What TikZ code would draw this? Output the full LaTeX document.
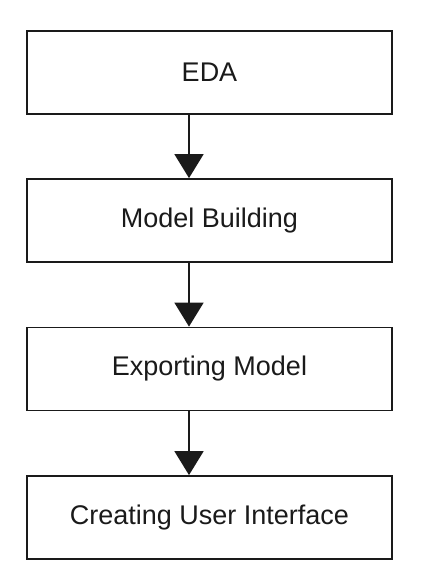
\documentclass[tikz,border=0pt]{standalone}
\usepackage{fontspec}
\setmainfont{Liberation Sans}
\usetikzlibrary{arrows.meta}
\definecolor{ink}{HTML}{1A1A1A}
\begin{document}
\begin{tikzpicture}[x=1pt,y=-1pt,
  stagebox/.style={draw=ink, line width=1.8pt, rectangle, minimum width=365pt, minimum height=83pt, inner sep=0pt, text=ink, font=\fontsize{27}{32}\selectfont},
  flowarrow/.style={draw=ink, line width=1.8pt, -{Triangle[width=29pt,length=24pt]}}]
\useasboundingbox (0,0) rectangle (426,573);
\node[stagebox] (b1) at (209.5,72.5) {EDA};
\node[stagebox] (b2) at (209.5,220.5) {Model Building};
\node[stagebox] (b3) at (209.5,369) {Exporting Model};
\node[stagebox] (b4) at (209.5,517.5) {Creating User Interface};
\coordinate (ax) at (189,0);
\draw[flowarrow] (b1.south -| ax) -- (b2.north -| ax);
\draw[flowarrow] (b2.south -| ax) -- (b3.north -| ax);
\draw[flowarrow] (b3.south -| ax) -- (b4.north -| ax);
\end{tikzpicture}
\end{document}
